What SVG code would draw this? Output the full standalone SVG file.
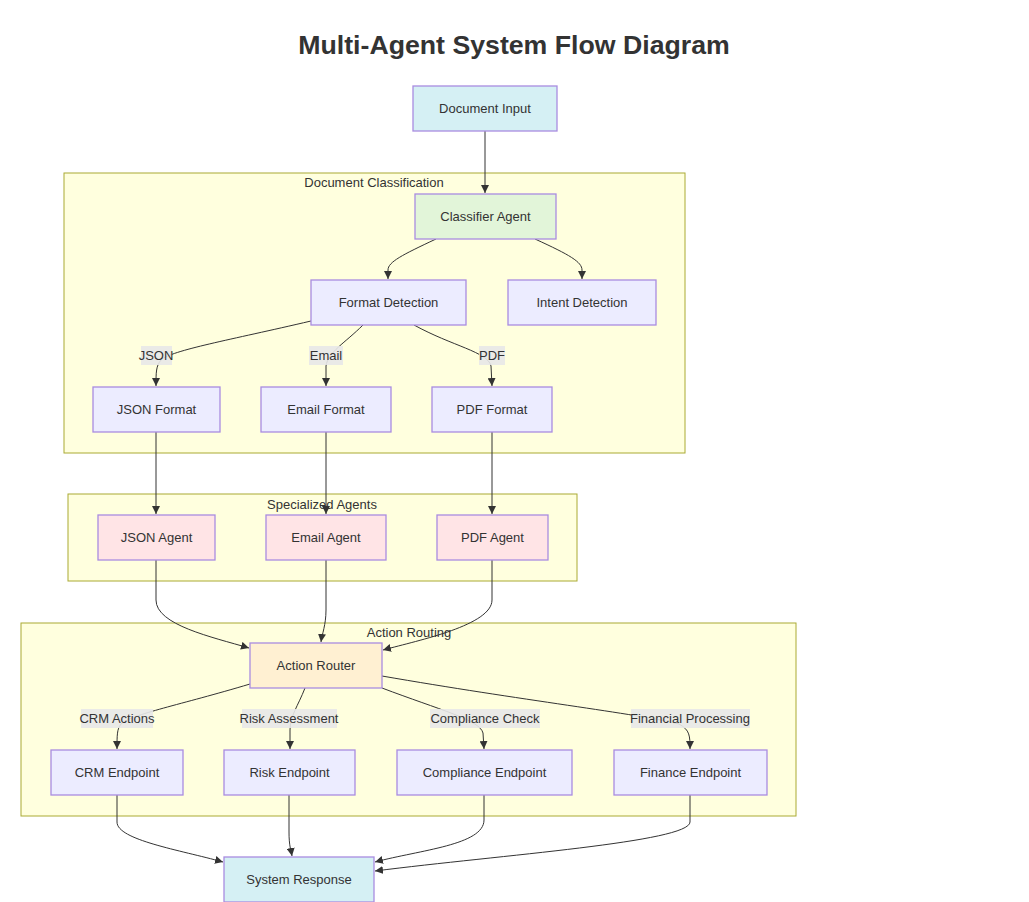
<svg xmlns="http://www.w3.org/2000/svg" width="1029" height="902" viewBox="0 0 1029 902">
<defs>
<marker id="arr" viewBox="0 0 10 10" refX="10" refY="5" markerWidth="8" markerHeight="8" markerUnits="userSpaceOnUse" orient="auto">
<path d="M0,0 L10,5 L0,10 z" fill="#333"/>
</marker>
</defs>
<style>
text{font-family:"Liberation Sans",Arial,sans-serif;fill:#333;}
.title{font-size:26.7px;font-weight:bold;text-anchor:middle;}
.lbl{font-size:13px;text-anchor:middle;dominant-baseline:central;}
.cl{fill:#ffffde;stroke:#aaaa33;stroke-width:1;}
.n rect{stroke:#a98ce0;stroke-width:1.3;}
.def{fill:#ececff;}
.io{fill:#d5f0f4;}
.cls{fill:#e2f5d9;}
.ag{fill:#ffe4e6;}
.rt{fill:#fff0d2;}
.e path{fill:none;stroke:#333;stroke-width:1;marker-end:url(#arr);}
.eb{fill:#e8e8e8;opacity:0.9;}
</style>
<rect width="1029" height="902" fill="#ffffff"/>
<text class="title" x="514" y="54">Multi-Agent System Flow Diagram</text>

<g id="clusters">
<g id="cluster-classification"><rect class="cl" x="64" y="173" width="621" height="280"/><text class="lbl" x="374" y="182">Document Classification</text></g>
<g id="cluster-agents"><rect class="cl" x="68" y="494" width="509" height="87"/><text class="lbl" x="322" y="504">Specialized Agents</text></g>
<g id="cluster-routing"><rect class="cl" x="21" y="623" width="775" height="193"/><text class="lbl" x="409" y="632">Action Routing</text></g>
</g>

<g id="connectors" class="e">
<path d="M485,131 L485,193"/>
<path d="M436,239 C402,255 388,262 388,270 L388,279"/>
<path d="M535,239 C570,255 582,262 582,270 L582,279"/>
<path d="M311,321 C230,340 172,350 161,360 C156,366 156,372 156,386"/>
<path d="M363,325 C345,343 328,352 326,366 L326,386"/>
<path d="M414,325 C452,346 488,352 491,366 L492,386"/>
<path d="M156,432 L156,514"/>
<path d="M326,432 L326,514"/>
<path d="M492,432 L492,514"/>
<path d="M156,560 L156,600 C156,625 212,637 249,648"/>
<path d="M326,560 L326,610 C326,625 322,634 321,642"/>
<path d="M492,560 L492,600 C492,625 420,640 383,650"/>
<path d="M250,684 C180,705 132,714 121,724 C117,729 117,735 117,749"/>
<path d="M305,688 C298,706 290,716 290,730 L290,749"/>
<path d="M382,688 C440,710 480,720 483,733 L484,749"/>
<path d="M382,676 C520,700 640,714 679,724 C690,730 690,736 690,749"/>
<path d="M117,795 L117,822 C117,840 180,850 223,862"/>
<path d="M289,795 L289,832 C289,846 291,850 292,856"/>
<path d="M484,795 L484,820 C484,845 420,850 375,862"/>
<path d="M690,795 L690,822 C690,842 500,855 375,871"/>
</g>

<g id="edge-labels">
<rect class="eb" x="141" y="346" width="31" height="19"/><text class="lbl" x="156" y="355">JSON</text>
<rect class="eb" x="309" y="346" width="34" height="19"/><text class="lbl" x="326" y="355">Email</text>
<rect class="eb" x="479" y="346" width="26" height="19"/><text class="lbl" x="492" y="355">PDF</text>
<rect class="eb" x="81" y="709" width="72" height="19"/><text class="lbl" x="117" y="718">CRM Actions</text>
<rect class="eb" x="242" y="709" width="95" height="19"/><text class="lbl" x="289" y="718">Risk Assessment</text>
<rect class="eb" x="430" y="709" width="110" height="19"/><text class="lbl" x="485" y="718">Compliance Check</text>
<rect class="eb" x="631" y="709" width="119" height="19"/><text class="lbl" x="690" y="718">Financial Processing</text>
</g>

<g id="doc-input" class="n"><rect class="io" x="413" y="86" width="144" height="45"/><text class="lbl" x="485" y="108.5">Document Input</text></g>
<g id="classifier" class="n"><rect class="cls" x="415" y="194" width="141" height="45"/><text class="lbl" x="485.5" y="216.5">Classifier Agent</text></g>
<g id="format-detection" class="n"><rect class="def" x="311" y="280" width="155" height="45"/><text class="lbl" x="388.5" y="302.5">Format Detection</text></g>
<g id="intent-detection" class="n"><rect class="def" x="508" y="280" width="148" height="45"/><text class="lbl" x="582" y="302.5">Intent Detection</text></g>
<g id="json-format" class="n"><rect class="def" x="93" y="387" width="127" height="45"/><text class="lbl" x="156.5" y="409.5">JSON Format</text></g>
<g id="email-format" class="n"><rect class="def" x="261" y="387" width="130" height="45"/><text class="lbl" x="326" y="409.5">Email Format</text></g>
<g id="pdf-format" class="n"><rect class="def" x="432" y="387" width="120" height="45"/><text class="lbl" x="492" y="409.5">PDF Format</text></g>
<g id="json-agent" class="n"><rect class="ag" x="98" y="515" width="117" height="45"/><text class="lbl" x="156.5" y="537.5">JSON Agent</text></g>
<g id="email-agent" class="n"><rect class="ag" x="266" y="515" width="120" height="45"/><text class="lbl" x="326" y="537.5">Email Agent</text></g>
<g id="pdf-agent" class="n"><rect class="ag" x="437" y="515" width="111" height="45"/><text class="lbl" x="492.5" y="537.5">PDF Agent</text></g>
<g id="action-router" class="n"><rect class="rt" x="250" y="643" width="132" height="45"/><text class="lbl" x="316" y="665.5">Action Router</text></g>
<g id="crm-endpoint" class="n"><rect class="def" x="51" y="750" width="132" height="45"/><text class="lbl" x="117" y="772.5">CRM Endpoint</text></g>
<g id="risk-endpoint" class="n"><rect class="def" x="224" y="750" width="131" height="45"/><text class="lbl" x="289.5" y="772.5">Risk Endpoint</text></g>
<g id="compliance-endpoint" class="n"><rect class="def" x="397" y="750" width="175" height="45"/><text class="lbl" x="484.5" y="772.5">Compliance Endpoint</text></g>
<g id="finance-endpoint" class="n"><rect class="def" x="614" y="750" width="153" height="45"/><text class="lbl" x="690.5" y="772.5">Finance Endpoint</text></g>
<g id="system-response" class="n"><rect class="io" x="224" y="857" width="150" height="45"/><text class="lbl" x="299" y="879.5">System Response</text></g>
</svg>
